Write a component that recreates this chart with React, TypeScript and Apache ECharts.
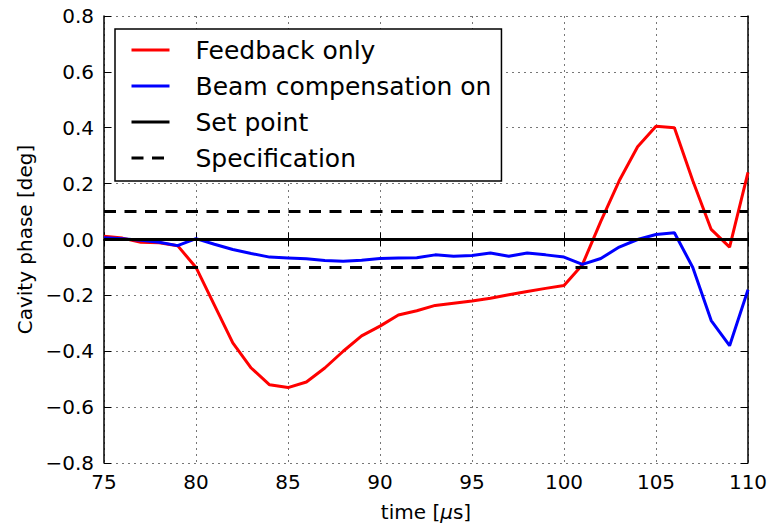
import React, { useEffect, useRef } from "react";
import * as echarts from "echarts";

const timeUs = [75, 76, 77, 78, 79, 80, 81, 82, 83, 84, 85, 86, 87, 88, 89, 90, 91, 92, 93, 94, 95, 96, 97, 98, 99, 100, 101, 102, 103, 104, 105, 106, 107, 108, 109, 110];
const feedbackOnly = [0.012, 0.005, -0.01, -0.012, -0.022, -0.1, -0.235, -0.37, -0.46, -0.52, -0.53, -0.51, -0.46, -0.4, -0.345, -0.31, -0.27, -0.255, -0.236, -0.228, -0.22, -0.21, -0.198, -0.186, -0.175, -0.165, -0.09, 0.065, 0.21, 0.332, 0.405, 0.4, 0.21, 0.036, -0.027, 0.24];
const beamComp = [0.006, 0.003, -0.003, -0.01, -0.022, 0.003, -0.017, -0.036, -0.05, -0.063, -0.066, -0.069, -0.075, -0.078, -0.074, -0.068, -0.066, -0.065, -0.055, -0.06, -0.057, -0.048, -0.06, -0.048, -0.055, -0.063, -0.089, -0.068, -0.027, 0.0, 0.018, 0.024, -0.1, -0.29, -0.38, -0.18];
const setPoint = 0;
const specLimit = 0.1;
const seriesNames = ["Feedback only", "Beam compensation on", "Set point", "Specification"];

const FONT = "DejaVu Sans";

function fmtY(v: number): string {
  const s = Math.abs(v).toFixed(1);
  return v < -1e-9 ? "\u2212" + s : s;
}

export default function App() {
  const ref = useRef<HTMLDivElement>(null);
  useEffect(() => {
    if (!ref.current) return;
    const chart = echarts.init(ref.current, undefined, { renderer: "svg" });
    const xMin = timeUs[0];
    const xMax = timeUs[timeUs.length - 1];
    const gridLine = { show: true, lineStyle: { color: "#777", width: 1, type: [2, 4] as any } };
    const axisLine = { show: true, lineStyle: { color: "#000", width: 1.5 } };
    const tick = { show: true, inside: true, length: 7, lineStyle: { color: "#000", width: 1 } };
    chart.setOption({
      animation: false,
      backgroundColor: "#fff",
      grid: { left: 104, right: 28, top: 16, bottom: 64, containLabel: false },
      xAxis: [
        {
          type: "value", min: 75, max: 110, interval: 5,
          axisLine, axisTick: tick, splitLine: gridLine,
          axisLabel: { fontFamily: FONT, fontSize: 20, color: "#000", margin: 9 },
          name: "time [{i|\u03bc}s]", nameLocation: "middle", nameGap: 39,
          nameTextStyle: {
            fontFamily: FONT, fontSize: 20, color: "#000",
            rich: { i: { fontFamily: FONT, fontSize: 20, fontStyle: "italic", color: "#000" } },
          },
        },
        {
          type: "value", min: 75, max: 110, interval: 5, position: "top",
          axisLine, axisTick: tick, splitLine: { show: false }, axisLabel: { show: false },
        },
      ],
      yAxis: [
        {
          type: "value", min: -0.8, max: 0.8, interval: 0.2,
          axisLine, axisTick: tick, splitLine: gridLine,
          axisLabel: { fontFamily: FONT, fontSize: 20, color: "#000", margin: 10, formatter: fmtY },
          name: "Cavity phase [deg]", nameLocation: "middle", nameGap: 68,
          nameTextStyle: { fontFamily: FONT, fontSize: 20, color: "#000" },
        },
        {
          type: "value", min: -0.8, max: 0.8, interval: 0.2, position: "right",
          axisLine, axisTick: tick, splitLine: { show: false }, axisLabel: { show: false },
        },
      ],
      legend: {
        orient: "vertical",
        left: 115,
        top: 29,
        data: seriesNames,
        itemWidth: 38,
        itemHeight: 14,
        itemGap: 8,
        padding: [7, 10, 9, 15],
        borderColor: "#000",
        borderWidth: 1.5,
        borderRadius: 0,
        backgroundColor: "#fff",
        itemStyle: { opacity: 0 },
        lineStyle: { width: 3 },
        textStyle: { fontFamily: FONT, fontSize: 25, color: "#000", lineHeight: 28, padding: [0, 0, 0, 21] },
      },
      series: [
        {
          name: seriesNames[0], type: "line", showSymbol: false, symbol: "none",
          data: timeUs.map((t, i) => [t, feedbackOnly[i]]),
          lineStyle: { color: "#ff0000", width: 3 }, itemStyle: { color: "#ff0000" }, z: 3,
        },
        {
          name: seriesNames[1], type: "line", showSymbol: false, symbol: "none",
          data: timeUs.map((t, i) => [t, beamComp[i]]),
          lineStyle: { color: "#0000ff", width: 3 }, itemStyle: { color: "#0000ff" }, z: 3,
        },
        {
          name: seriesNames[2], type: "line", showSymbol: false, symbol: "none",
          data: [[xMin, setPoint], [xMax, setPoint]],
          lineStyle: { color: "#000", width: 3 }, itemStyle: { color: "#000" }, z: 4,
        },
        {
          name: seriesNames[3], type: "line", showSymbol: false, symbol: "none",
          data: [[xMin, specLimit], [xMax, specLimit], null, [xMin, -specLimit], [xMax, -specLimit]],
          connectNulls: false,
          lineStyle: { color: "#000", width: 3, type: [12, 8.5] }, itemStyle: { color: "#000" }, z: 4,
        },
      ],
    });
    return () => chart.dispose();
  }, []);
  return <div ref={ref} style={{ width: 776, height: 527, position: "absolute", left: 0, top: 0 }} />;
}
